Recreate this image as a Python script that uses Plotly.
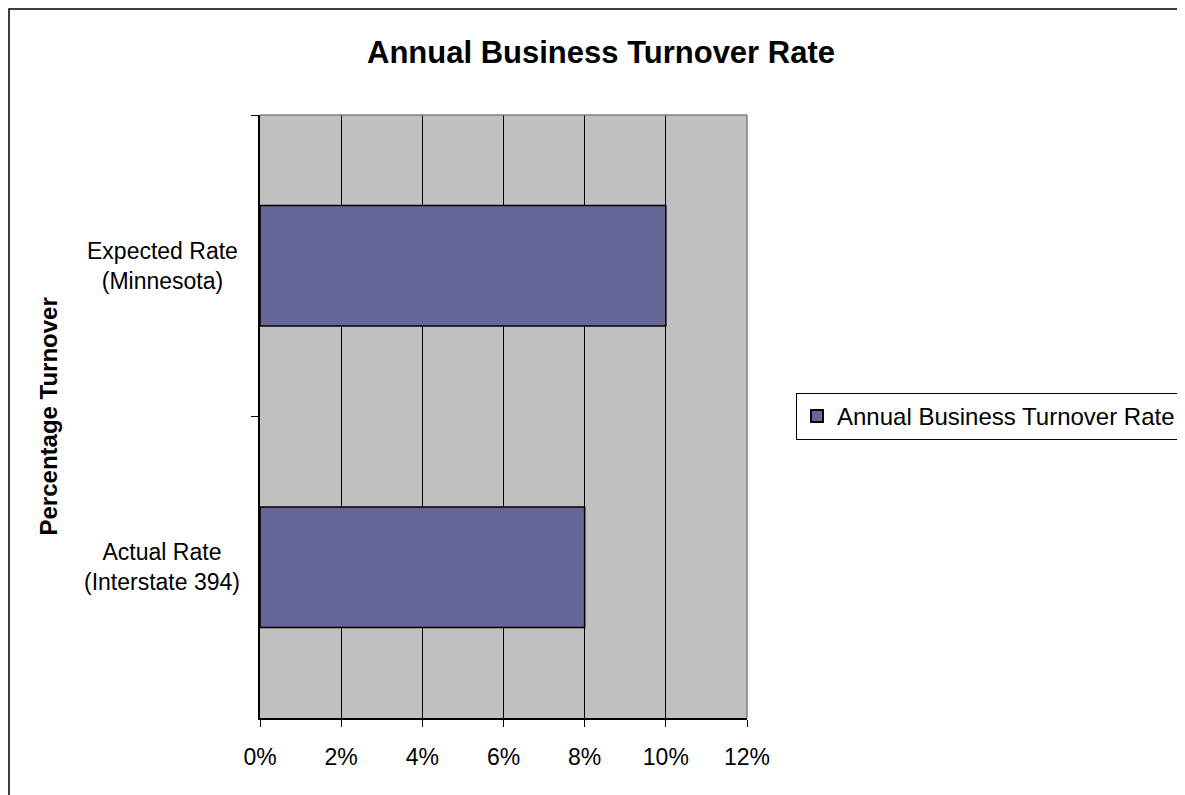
import plotly.graph_objects as go

# ---- data ----
categories = ["Expected Rate<br>(Minnesota)", "Actual Rate<br>(Interstate 394)"]
turnover_rate = [0.10, 0.08]
series_name = "Annual Business Turnover Rate"
x_tick_values = [0, 0.02, 0.04, 0.06, 0.08, 0.10, 0.12]
x_tick_labels = ["0%", "2%", "4%", "6%", "8%", "10%", "12%"]

FONT = "Arial, 'Liberation Sans', sans-serif"
W, H = 1185, 795
L, R, T, B = 252, 446, 107, 85
pw, ph = W - L - R, H - T - B

def px_x(px):
    return (px - L) / pw

def px_y(py):
    return (H - B - py) / ph

fig = go.Figure()
fig.add_trace(go.Bar(
    y=categories, x=turnover_rate, orientation="h", name=series_name,
    marker=dict(color="#666699", line=dict(color="black", width=1.5)),
    showlegend=True,
))

fig.update_layout(
    width=W, height=H,
    margin=dict(l=L, r=R, t=T, b=B, autoexpand=False),
    paper_bgcolor="white", plot_bgcolor="#C0C0C0",
    font=dict(family=FONT, color="black", size=23),
    bargap=0.6,
    title=dict(text="<b>Annual Business Turnover Rate</b>", xref="paper",
               x=px_x(593), xanchor="center", yref="container",
               y=1 - 44 / H, yanchor="middle",
               font=dict(size=31, family=FONT, color="black")),
    showlegend=True,
    legend=dict(x=px_x(788), xanchor="left", y=0.5, yanchor="middle",
                bordercolor="black", borderwidth=1, bgcolor="white",
                font=dict(size=24, family=FONT, color="black"),
                itemwidth=30, itemsizing="constant"),
)

fig.update_xaxes(
    range=[0, 0.12], tickvals=x_tick_values, ticktext=x_tick_labels,
    showgrid=True, gridcolor="black", gridwidth=1, zeroline=False,
    showline=True, linecolor="black", linewidth=1.5,
    ticks="outside", ticklen=7, tickcolor="black", tickwidth=1,
    tickfont=dict(size=23, family=FONT), ticklabelstandoff=11,
)
fig.update_yaxes(
    type="category", categoryorder="array", categoryarray=categories,
    range=[1.5, -0.5], tickson="boundaries",
    showgrid=False, zeroline=False, showticklabels=False,
    showline=True, linecolor="black", linewidth=1.5,
    ticks="outside", ticklen=7, tickcolor="black", tickwidth=1,
)

# category labels, centred like the original
for c in categories:
    fig.add_annotation(x=px_x(154), xref="paper", y=c, yref="y", text=c,
                       showarrow=False, xanchor="center", yanchor="middle",
                       align="center", font=dict(size=23, family=FONT))

# y axis title
fig.add_annotation(x=px_x(40), xref="paper", y=0.5, yref="paper",
                   text="<b>Percentage Turnover</b>", textangle=-90,
                   showarrow=False, xanchor="center", yanchor="middle",
                   font=dict(size=24, family=FONT))

# plot area top/right border (grey)
fig.add_shape(type="line", xref="paper", yref="paper", x0=0, x1=1, y0=1, y1=1,
              line=dict(color="#808080", width=1.5), layer="above")
fig.add_shape(type="line", xref="paper", yref="paper", x0=1, x1=1, y0=0, y1=1,
              line=dict(color="#808080", width=1.5), layer="above")

# outer chart frame (cropped on right/bottom)
fig.add_shape(type="rect", xref="paper", yref="paper",
              x0=px_x(1), x1=px_x(W + 20), y0=px_y(1), y1=px_y(H + 20),
              line=dict(color="black", width=1.5), fillcolor="rgba(0,0,0,0)",
              layer="above")

fig.write_html("out.html")
